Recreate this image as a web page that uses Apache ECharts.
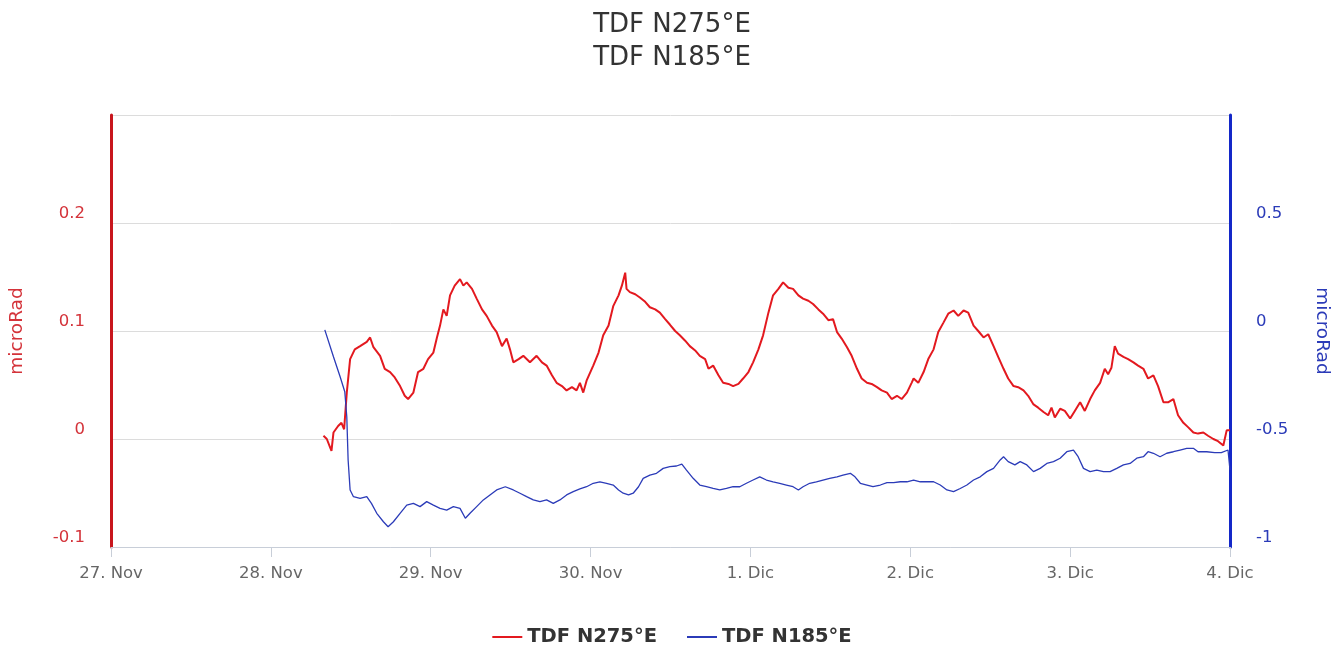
<!DOCTYPE html>
<html>
<head>
<meta charset="utf-8">
<title>TDF tilt</title>
<script src="https://cdn.jsdelivr.net/npm/echarts@6/dist/echarts.min.js"></script>
<style>
  html, body { margin: 0; padding: 0; background: #fff; }
  #chart { width: 1344px; height: 645px; }
</style>
</head>
<body>
<div id="chart"></div>
<script>
// Tick labels for the day ticks (hours since 27 Nov 00:00, every 24 h)
const dayLabels = ['27. Nov', '28. Nov', '29. Nov', '30. Nov', '1. Dic', '2. Dic', '3. Dic', '4. Dic'];

const seriesNames = ['TDF N275°E', 'TDF N185°E'];

// TDF N275°E — time (hours since 27 Nov 00:00) and tilt (microRad), left axis
const redHours = [
  31.9, 32.4, 33.1, 33.4, 34.1, 34.6, 35.0, 35.4, 35.9, 36.6, 37.4, 38.4, 38.9, 39.4, 40.4, 41.1,
  41.9, 42.6, 43.4, 44.1, 44.6, 45.4, 46.1, 46.9, 47.6, 48.4, 48.9, 49.4, 49.9, 50.4, 50.9, 51.6,
  52.4, 52.9, 53.4, 54.2, 54.9, 55.7, 56.4, 57.2, 57.9, 58.7, 59.4, 59.9, 60.4, 61.2, 61.9, 62.9,
  63.9, 64.7, 65.4, 66.2, 66.9, 67.7, 68.4, 69.2, 69.9, 70.4, 70.9, 71.4, 72.4, 73.2, 73.9, 74.7,
  75.4, 76.2, 76.7, 77.2, 77.4, 77.9, 78.7, 79.4, 80.2, 80.9, 81.7, 82.4, 83.2, 83.9, 84.7, 85.4,
  86.2, 86.9, 87.7, 88.4, 89.2, 89.7, 90.4, 91.2, 91.9, 92.7, 93.4, 94.2, 94.9, 95.7, 96.4, 97.2,
  97.9, 98.7, 99.4, 100.2, 100.9, 101.7, 102.4, 103.2, 103.9, 104.7, 105.4, 106.2, 106.9, 107.7,
  108.4, 109.0, 109.7, 110.5, 111.2, 112.0, 112.7, 113.5, 114.2, 115.0, 115.7, 116.5, 117.2, 118.0,
  118.7, 119.5, 120.2, 120.5, 121.2, 122.0, 122.7, 123.5, 124.2, 125.0, 125.7, 126.5, 127.2, 128.0,
  128.7, 129.5, 130.2, 131.0, 131.7, 132.5, 133.2, 134.0, 134.7, 135.5, 136.2, 137.0, 137.7, 138.5,
  139.2, 140.0, 140.7, 141.2, 141.7, 142.5, 143.2, 144.0, 144.7, 145.5, 146.2, 147.0, 147.7, 148.5,
  149.2, 149.7, 150.2, 150.7, 151.2, 152.0, 152.7, 153.5, 154.2, 155.0, 155.7, 156.5, 157.2, 158.0,
  158.7, 159.5, 160.2, 161.0, 161.7, 162.5, 163.2, 164.0, 164.7, 165.5, 166.2, 167.0, 167.5, 168.0
];
const redValues = [
  0.003, 0.000, -0.011, 0.006, 0.012, 0.015, 0.009, 0.043, 0.074, 0.083, 0.086, 0.090, 0.094, 0.085, 0.077, 0.065,
  0.062, 0.057, 0.049, 0.040, 0.037, 0.043, 0.062, 0.065, 0.074, 0.080, 0.093, 0.105, 0.120, 0.114, 0.133, 0.142,
  0.148, 0.142, 0.145, 0.139, 0.130, 0.120, 0.114, 0.105, 0.099, 0.086, 0.093, 0.083, 0.071, 0.074, 0.077, 0.071,
  0.077, 0.071, 0.068, 0.059, 0.052, 0.049, 0.045, 0.048, 0.045, 0.052, 0.043, 0.054, 0.068, 0.080, 0.096, 0.105,
  0.123, 0.133, 0.142, 0.154, 0.139, 0.136, 0.134, 0.131, 0.127, 0.122, 0.120, 0.117, 0.111, 0.106, 0.100, 0.096,
  0.091, 0.086, 0.082, 0.077, 0.074, 0.065, 0.068, 0.059, 0.052, 0.051, 0.049, 0.051, 0.056, 0.062, 0.071, 0.083,
  0.096, 0.117, 0.133, 0.139, 0.145, 0.140, 0.139, 0.133, 0.130, 0.128, 0.125, 0.120, 0.116, 0.110,
  0.111, 0.099, 0.093, 0.085, 0.077, 0.065, 0.056, 0.052, 0.051, 0.048, 0.045, 0.043, 0.037, 0.040,
  0.037, 0.043, 0.052, 0.056, 0.052, 0.062, 0.074, 0.083, 0.099, 0.108, 0.116, 0.119, 0.114, 0.119,
  0.117, 0.105, 0.100, 0.094, 0.097, 0.086, 0.076, 0.065, 0.056, 0.049, 0.048, 0.045, 0.040, 0.032,
  0.029, 0.025, 0.022, 0.029, 0.020, 0.028, 0.026, 0.019, 0.026, 0.034, 0.026, 0.037, 0.045, 0.052,
  0.065, 0.060, 0.066, 0.086, 0.079, 0.076, 0.074, 0.071, 0.068, 0.065, 0.056, 0.059, 0.049, 0.034,
  0.034, 0.037, 0.022, 0.015, 0.011, 0.006, 0.005, 0.006, 0.003, 0.000, -0.002, -0.006, 0.008, 0.008
];

// TDF N185°E — time (hours since 27 Nov 00:00) and tilt (microRad), right axis
const blueHours = [
  32.1, 33.4, 34.4, 35.1, 35.4, 35.6, 35.9, 36.4, 37.4, 38.4, 39.1, 39.9, 40.9, 41.6, 42.4, 43.4,
  44.4, 45.4, 46.4, 47.4, 48.4, 49.4, 50.4, 51.4, 52.4, 53.2, 53.9, 54.9, 55.9, 56.9, 57.9, 59.2,
  60.4, 61.4, 62.4, 63.4, 64.4, 65.4, 66.4, 67.4, 68.4, 69.4, 70.4, 71.4, 72.4, 73.4, 74.4, 75.4,
  76.2, 76.9, 77.7, 78.4, 79.2, 79.9, 80.9, 81.9, 82.9, 83.9, 84.9, 85.7, 86.4, 87.4, 88.4, 89.4,
  90.4, 91.4, 92.4, 93.4, 94.4, 95.4, 96.4, 97.4, 98.4, 99.4, 100.4, 101.4, 102.4, 103.2, 103.9, 104.9,
  105.9, 106.9, 107.9, 109.0, 109.9, 111.0, 111.7, 112.5, 113.5, 114.4, 115.5, 116.5, 117.5, 118.5,
  119.5, 120.5, 121.5, 122.5, 123.5, 124.5, 125.5, 126.5, 127.5, 128.5, 129.5, 130.5, 131.5, 132.5,
  133.5, 134.0, 134.7, 135.7, 136.5, 137.5, 138.5, 139.5, 140.5, 141.5, 142.5, 143.5, 144.5, 145.2,
  146.0, 147.0, 148.0, 149.0, 150.0, 151.0, 152.0, 153.0, 154.0, 155.0, 155.7, 156.5, 157.5, 158.5,
  159.5, 160.5, 161.5, 162.5, 163.2, 164.5, 165.7, 166.7, 167.7, 168.0
];
const blueValues = [
  0.005, -0.119, -0.212, -0.281, -0.397, -0.597, -0.736, -0.767, -0.775, -0.767, -0.798, -0.844, -0.883, -0.906, -0.883, -0.844,
  -0.806, -0.798, -0.813, -0.790, -0.806, -0.821, -0.829, -0.813, -0.821, -0.867, -0.844, -0.813, -0.782, -0.759, -0.736, -0.721,
  -0.736, -0.751, -0.767, -0.782, -0.790, -0.782, -0.798, -0.782, -0.759, -0.744, -0.731, -0.721, -0.705, -0.698, -0.705, -0.713,
  -0.736, -0.751, -0.759, -0.751, -0.721, -0.682, -0.667, -0.659, -0.636, -0.628, -0.625, -0.616, -0.644, -0.682, -0.713, -0.721,
  -0.729, -0.736, -0.729, -0.721, -0.721, -0.705, -0.690, -0.675, -0.690, -0.698, -0.705, -0.713, -0.721, -0.736, -0.721, -0.705,
  -0.698, -0.690, -0.682, -0.675, -0.667, -0.659, -0.675, -0.705, -0.713, -0.721, -0.713, -0.702, -0.702, -0.698,
  -0.698, -0.690, -0.698, -0.698, -0.698, -0.713, -0.736, -0.744, -0.729, -0.713, -0.690, -0.675, -0.651, -0.636,
  -0.597, -0.582, -0.605, -0.620, -0.605, -0.620, -0.651, -0.636, -0.613, -0.605, -0.589, -0.559, -0.551, -0.582,
  -0.636, -0.651, -0.644, -0.651, -0.651, -0.636, -0.620, -0.613, -0.589, -0.582, -0.559, -0.566, -0.582, -0.566,
  -0.559, -0.551, -0.543, -0.543, -0.559, -0.559, -0.563, -0.563, -0.551, -0.644
];

const RED = '#e3191f';
const BLUE = '#2b3bb8';
const FONT = 'DejaVu Sans';

const zip = (xs, ys) => xs.map((x, i) => [x, ys[i]]);
const tickText = v => String(Math.round(v * 10) / 10);

const chart = echarts.init(document.getElementById('chart'), null, { renderer: 'canvas' });

chart.setOption({
  animation: false,
  backgroundColor: '#ffffff',
  textStyle: { fontFamily: FONT },
  title: {
    text: seriesNames.join('\n'),
    left: 'center',
    top: 4,
    textStyle: { fontFamily: FONT, fontSize: 26, fontWeight: 'normal', color: '#333333', lineHeight: 33 }
  },
  legend: {
    top: 622,
    left: 'center',
    icon: 'rect',
    itemWidth: 30,
    itemHeight: 2,
    itemGap: 30,
    textStyle: { fontFamily: FONT, fontSize: 19.5, fontWeight: 'bold', color: '#333333' },
    data: seriesNames
  },
  grid: { left: 111, right: 114, top: 115, bottom: 98, containLabel: false },
  xAxis: {
    type: 'value',
    min: 0,
    max: 168,
    interval: 24,
    axisLine: { show: true, onZero: false, lineStyle: { color: '#c8ced8', width: 1 } },
    axisTick: { show: true, length: 10, lineStyle: { color: '#c8ced8' } },
    splitLine: { show: false },
    axisLabel: {
      margin: 18,
      fontFamily: FONT,
      fontSize: 16.5,
      color: '#666666',
      formatter: v => dayLabels[Math.round(v / 24)] || ''
    }
  },
  yAxis: [
    {
      type: 'value',
      position: 'left',
      min: -0.1,
      max: 0.3,
      interval: 0.1,
      name: 'microRad',
      nameLocation: 'middle',
      nameGap: 84,
      nameRotate: 90,
      nameTextStyle: { fontFamily: FONT, fontSize: 18.5, color: '#d4333a' },
      axisLine: { show: true, onZero: false, lineStyle: { color: '#c8161d', width: 3 } },
      axisTick: { show: false },
      splitLine: { show: true, lineStyle: { color: '#dcdcdc', width: 1 } },
      axisLabel: {
        showMaxLabel: false,
        margin: 26,
        fontFamily: FONT,
        fontSize: 16.5,
        color: '#d4333a',
        verticalAlign: 'bottom',
        padding: [0, 0, 1, 0],
        formatter: tickText
      }
    },
    {
      type: 'value',
      position: 'right',
      min: -1,
      max: 1,
      interval: 0.5,
      name: 'microRad',
      nameLocation: 'middle',
      nameGap: 82,
      nameRotate: -90,
      nameTextStyle: { fontFamily: FONT, fontSize: 18.5, color: '#2b3bb8' },
      axisLine: { show: true, onZero: false, lineStyle: { color: '#1428c8', width: 3 } },
      axisTick: { show: false },
      splitLine: { show: false },
      axisLabel: {
        showMaxLabel: false,
        margin: 26,
        fontFamily: FONT,
        fontSize: 16.5,
        color: '#2b3bb8',
        verticalAlign: 'bottom',
        padding: [0, 0, 1, 0],
        formatter: tickText
      }
    }
  ],
  series: [
    {
      name: seriesNames[0],
      type: 'line',
      yAxisIndex: 0,
      symbol: 'none',
      color: RED,
      lineStyle: { color: RED, width: 2 },
      data: zip(redHours, redValues)
    },
    {
      name: seriesNames[1],
      type: 'line',
      yAxisIndex: 1,
      symbol: 'none',
      color: BLUE,
      lineStyle: { color: BLUE, width: 1.3 },
      data: zip(blueHours, blueValues)
    }
  ]
});
</script>
</body>
</html>
